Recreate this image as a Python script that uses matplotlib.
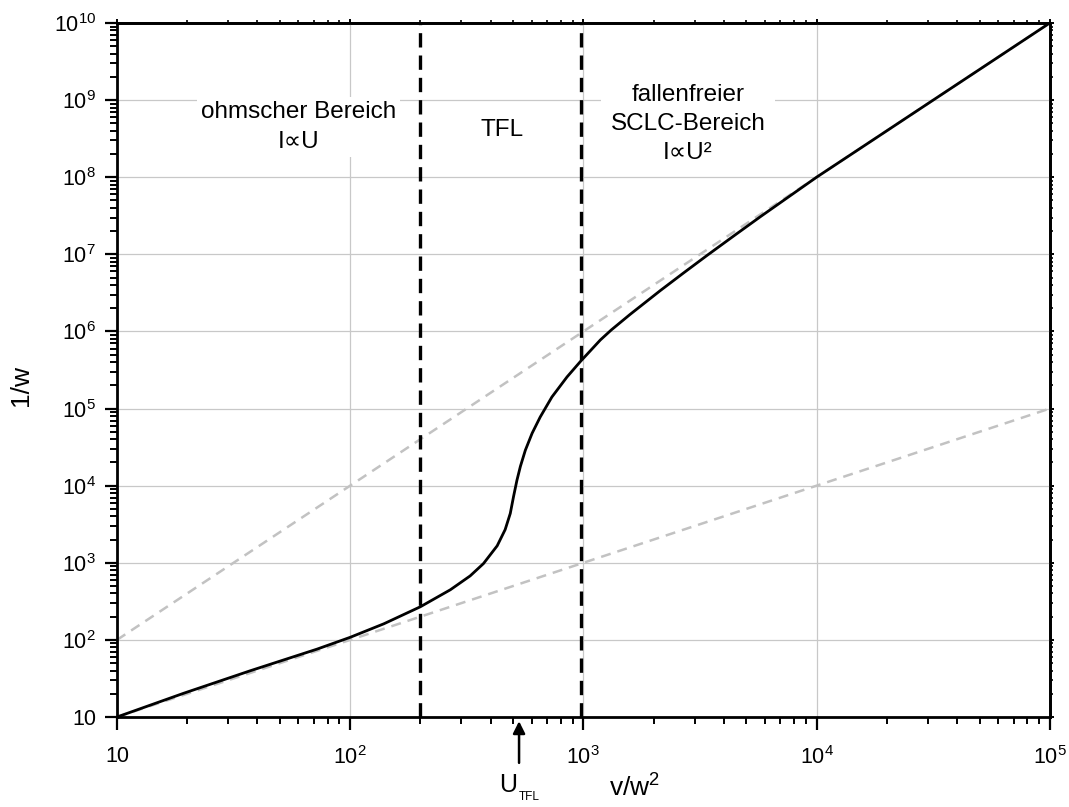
import matplotlib
matplotlib.use("Agg")
import matplotlib.pyplot as plt
from matplotlib.ticker import LogLocator, FixedLocator, FixedFormatter, NullFormatter

plt.rcParams['font.family'] = ['Liberation Sans', 'DejaVu Sans']
plt.rcParams['mathtext.fontset'] = 'custom'
plt.rcParams['mathtext.rm'] = 'Liberation Sans'
plt.rcParams['mathtext.it'] = 'Liberation Sans:italic'
plt.rcParams['mathtext.bf'] = 'Liberation Sans:bold'

# curve
x_curve = [10, 19.3, 37.3, 72.1, 100, 139.6, 200, 269, 327, 373, 427, 462, 486, 502,
           519, 537, 564, 603, 653, 733, 851, 971, 1183, 1318, 1585, 2138, 2692, 3388,
           4467, 5754, 7586, 1e4, 17783, 31623, 56234, 1e5]
y_curve = [10, 20.3, 39.8, 75.9, 108, 162, 269, 447, 676, 977, 1660, 2692, 4365, 7244,
           11749, 17783, 28840, 47863, 77625, 141254, 257040, 407380, 776247, 1.047e6,
           1.66e6, 3.39e6, 5.75e6, 9.66e6, 1.778e7, 3.09e7, 5.56e7, 1e8, 3.16e8, 1e9,
           3.16e9, 1e10]

# asymptotes: ohmic (I ~ U) and trap free SCLC (I ~ U^2)
x_ohm = [10, 1e5]
y_ohm = [10, 1e5]
x_sclc = [10, 1e5]
y_sclc = [1e2, 1e10]

# region borders and trap filled limit voltage
x_borders = [200, 975]
u_tfl = 530

x_ticks = [10, 1e2, 1e3, 1e4, 1e5]
x_ticklabels = ['10', '$10^{2}$', '$10^{3}$', '$10^{4}$', '$10^{5}$']
y_ticks = [10, 1e2, 1e3, 1e4, 1e5, 1e6, 1e7, 1e8, 1e9, 1e10]
y_ticklabels = ['10'] + ['$10^{%d}$' % k for k in range(2, 11)]

fig = plt.figure(figsize=(10.69, 8.07), dpi=100)
fig.subplots_adjust(left=0.1094, right=0.982, bottom=0.1115, top=0.9715)
ax = fig.add_subplot(111)
ax.set_xscale('log')
ax.set_yscale('log')
ax.set_xlim(10, 1e5)
ax.set_ylim(10, 1e10)

ax.grid(True, which='major', color='#c8c8c8', lw=0.9, zorder=0)
ax.set_axisbelow(True)

gray = '#c2c2c2'
ax.plot(x_ohm, y_ohm, color=gray, lw=1.8, dashes=(4, 2.8), zorder=2)
ax.plot(x_sclc, y_sclc, color=gray, lw=1.8, dashes=(4, 2.8), zorder=2)

for xb in x_borders:
    ax.axvline(xb, color='black', lw=2.4, dashes=(4.3, 2.4), zorder=3)

ax.plot(x_curve, y_curve, color='black', lw=2.0, zorder=4, solid_joinstyle='round')

ax.text(60, 4.5e8, 'ohmscher Bereich\nI∝U', ha='center', va='center', fontsize=17.5,
        linespacing=1.45, bbox=dict(facecolor='white', edgecolor='none', pad=3), zorder=5)
ax.text(447, 4.1e8, 'TFL', ha='center', va='center', fontsize=17.5, zorder=5)
ax.text(2810, 4.9e8, 'fallenfreier\nSCLC-Bereich\nI∝U²', ha='center', va='center',
        fontsize=17.5, linespacing=1.4,
        bbox=dict(facecolor='white', edgecolor='none', pad=7), zorder=5)

# arrow marking U_TFL below the axis
ax.annotate('', xy=(u_tfl, 10), xytext=(0, -33), textcoords='offset points',
            arrowprops=dict(arrowstyle='-|>', color='black', lw=1.8,
                            mutation_scale=18, shrinkA=0, shrinkB=3),
            annotation_clip=False)
ax.annotate('U', xy=(u_tfl, 10), xytext=(-8, -40), textcoords='offset points',
            ha='center', va='top', fontsize=18, annotation_clip=False)
ax.annotate('TFL', xy=(u_tfl, 10), xytext=(7.5, -57.5), textcoords='offset points',
            ha='center', va='center', fontsize=8.5, annotation_clip=False)

ax.xaxis.set_major_locator(FixedLocator(x_ticks))
ax.xaxis.set_major_formatter(FixedFormatter(x_ticklabels))
ax.yaxis.set_major_locator(FixedLocator(y_ticks))
ax.yaxis.set_major_formatter(FixedFormatter(y_ticklabels))
ax.xaxis.set_minor_locator(LogLocator(base=10, subs=range(2, 10), numticks=20))
ax.yaxis.set_minor_locator(LogLocator(base=10, subs=range(2, 10), numticks=20))
ax.xaxis.set_minor_formatter(NullFormatter())
ax.yaxis.set_minor_formatter(NullFormatter())

ax.tick_params(which='major', direction='out', length=9, width=1.6, labelsize=15.5)
ax.tick_params(which='minor', direction='out', length=5, width=1.4)
ax.tick_params(axis='x', which='major', pad=12)
ax.tick_params(axis='y', which='major', pad=6)

# tiny ticks on top and right
secx = ax.secondary_xaxis('top')
secy = ax.secondary_yaxis('right')
for sec, axis in ((secx, secx.xaxis), (secy, secy.yaxis)):
    axis.set_major_locator(FixedLocator(x_ticks if sec is secx else y_ticks))
    axis.set_minor_locator(LogLocator(base=10, subs=range(2, 10), numticks=20))
    axis.set_major_formatter(NullFormatter())
    axis.set_minor_formatter(NullFormatter())
    sec.tick_params(which='major', direction='out', length=3, width=1.4)
    sec.tick_params(which='minor', direction='out', length=2, width=1.2)
    for s in sec.spines.values():
        s.set_linewidth(2.0)

for s in ax.spines.values():
    s.set_linewidth(2.0)

ax.set_xlabel('v/w$^{2}$', fontsize=19)
ax.xaxis.set_label_coords(0.555, -0.083)
ax.set_ylabel('1/w', fontsize=19)
ax.yaxis.set_label_coords(-0.09, 0.478)

fig.savefig('out.png', dpi=100)
